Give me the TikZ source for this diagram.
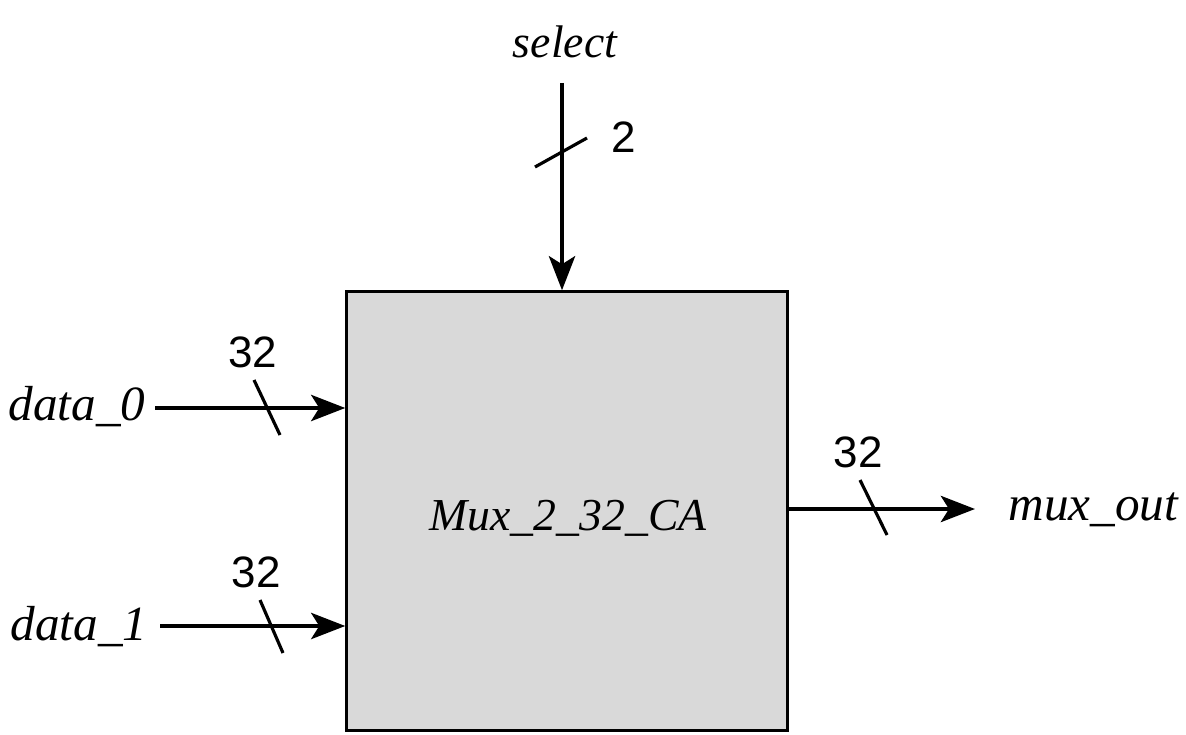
\documentclass[tikz,border=0pt]{standalone}
\usepackage{fontspec}
\setmainfont{Liberation Serif}
\newfontfamily\numfont{Liberation Sans}
\usetikzlibrary{arrows.meta,positioning,calc}
\definecolor{muxgray}{HTML}{D9D9D9}

\begin{document}
\begin{tikzpicture}[x=0.01cm,y=-0.01cm,font=\fontsize{14}{17}\selectfont,
 muxbox/.style={draw,line width=0.9pt,fill=muxgray,minimum width=4.4cm,minimum height=4.38cm},
 sig/.style={inner sep=0pt,font=\fontsize{14}{17}\selectfont\itshape},
 width/.style={inner sep=0pt,font=\fontsize{12.5}{15}\selectfont\numfont},
 wire/.style={line width=1.4pt,-{Stealth[length=3.4mm,width=2.6mm,inset=0.8mm]}},
 tick/.style={line width=0.9pt}]
\useasboundingbox (0,0) rectangle (1186,734);
\node[muxbox](mux) at (567,511){};
\node[sig,anchor=base,font=\fontsize{13}{16}\selectfont\itshape](muxname) at (568,530){Mux\_2\_32\_CA};
\node[sig,anchor=base,font=\fontsize{13}{16}\selectfont\itshape](sel) at (565,58){select};
\node[sig,anchor=base east](d0) at (146,420){data\_0};
\node[sig,anchor=base east](d1) at (148,640){data\_1};
\node[sig,anchor=base west](out) at (1008,520){mux\_out};
\coordinate (s) at (562,83);
\coordinate (w0) at (155,408);
\coordinate (w1) at (160,626);
\coordinate (o) at (975,509);
\draw[wire](s)--(s |- mux.north);
\draw[wire](w0)--(w0 -| mux.west);
\draw[wire](w1)--(w1 -| mux.west);
\draw[wire](o -| mux.east)--(o);
% bus width marks
\draw[tick](535,167)--(587,138);
\draw[tick](254,380)--(280,435);
\draw[tick](260,600)--(283,653);
\draw[tick](860,480)--(887,535);
\node[width](n2) at (624,137){2};
\node[width](n0) at (253,352){32};
\node[width](n1) at (256,572){32};
\node[width](no) at (858,452){32};
\end{tikzpicture}
\end{document}
